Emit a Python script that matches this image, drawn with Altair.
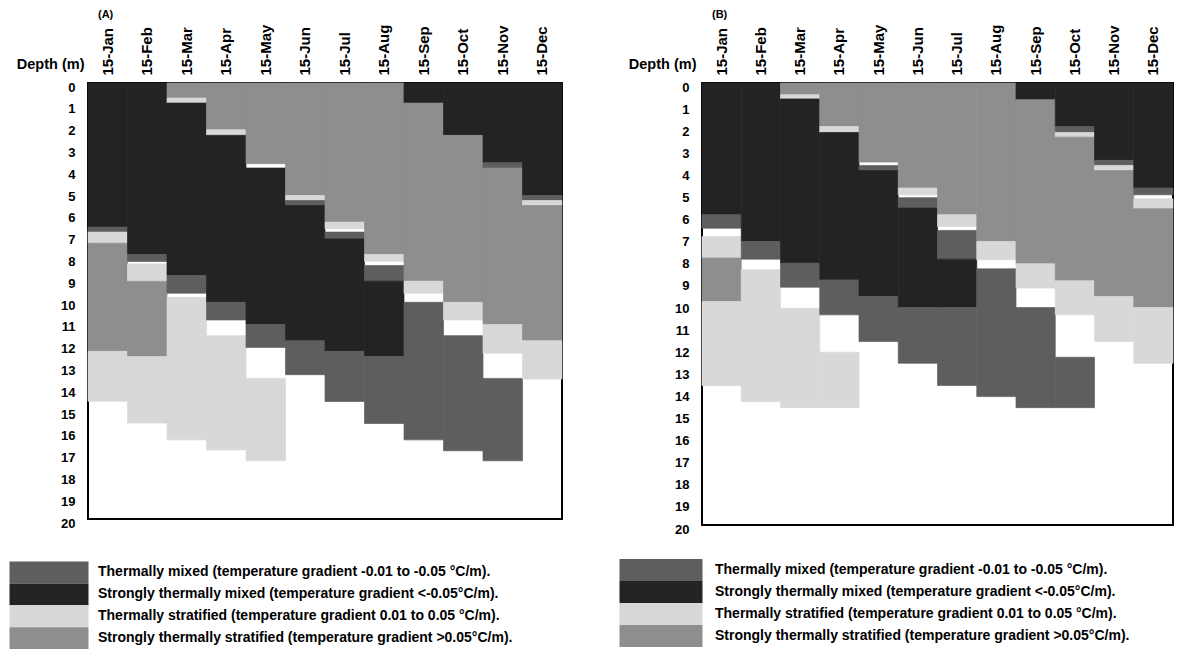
import altair as alt
import pandas as pd

FONT = "Liberation Sans"

months = ["15-Jan", "15-Feb", "15-Mar", "15-Apr", "15-May", "15-Jun",
          "15-Jul", "15-Aug", "15-Sep", "15-Oct", "15-Nov", "15-Dec"]
depth_ticks = list(range(0, 21))

class_codes = ["M", "SM", "S", "SS"]
class_labels = [
    "Thermally mixed (temperature gradient -0.01 to -0.05 °C/m).",
    "Strongly thermally mixed (temperature gradient <-0.05°C/m).",
    "Thermally stratified (temperature gradient 0.01 to 0.05 °C/m).",
    "Strongly thermally stratified (temperature gradient >0.05°C/m).",
]
class_colors = ["#5e5e5e", "#232323", "#d8d8d8", "#8e8e8e"]

# Panel (A): layer classes from the surface down ("W" = blank gap) and layer boundaries (m)
a_classes = {
    "15-Jan": ["SM", "M", "S", "SS", "S"],
    "15-Feb": ["SM", "M", "W", "S", "SS", "S"],
    "15-Mar": ["SS", "S", "SM", "M", "W", "S"],
    "15-Apr": ["SS", "S", "SM", "M", "W", "S"],
    "15-May": ["SS", "W", "SM", "M", "W", "S"],
    "15-Jun": ["SS", "S", "M", "SM", "M"],
    "15-Jul": ["SS", "S", "W", "M", "SM", "M"],
    "15-Aug": ["SS", "S", "W", "M", "SM", "M"],
    "15-Sep": ["SM", "SS", "S", "W", "M"],
    "15-Oct": ["SM", "SS", "S", "W", "M"],
    "15-Nov": ["SM", "M", "SS", "S", "W", "M"],
    "15-Dec": ["SM", "M", "S", "SS", "S"],
}
a_bounds = {
    "15-Jan": [0, 6.61, 6.84, 7.35, 12.31, 14.60],
    "15-Feb": [0, 7.87, 8.19, 8.30, 9.10, 12.55, 15.60],
    "15-Mar": [0, 0.69, 0.92, 8.83, 9.64, 9.83, 16.37],
    "15-Apr": [0, 2.14, 2.40, 10.06, 10.87, 11.59, 16.83],
    "15-May": [0, 3.70, 3.90, 11.08, 12.13, 13.55, 17.33],
    "15-Jun": [0, 5.16, 5.39, 5.62, 11.82, 13.38],
    "15-Jul": [0, 6.38, 6.69, 6.84, 7.15, 12.31, 14.61],
    "15-Aug": [0, 7.87, 8.18, 8.37, 9.09, 12.55, 15.62],
    "15-Sep": [0, 0.92, 9.09, 9.65, 10.06, 16.37],
    "15-Oct": [0, 2.40, 10.06, 10.87, 11.59, 16.87],
    "15-Nov": [0, 3.66, 3.90, 11.08, 12.40, 13.55, 17.33],
    "15-Dec": [0, 5.16, 5.39, 5.62, 11.82, 13.58],
}

# Panel (B)
b_classes = {
    "15-Jan": ["SM", "M", "W", "S", "SS", "S"],
    "15-Feb": ["SM", "M", "W", "S"],
    "15-Mar": ["SS", "S", "SM", "M", "W", "S"],
    "15-Apr": ["SS", "S", "SM", "M", "W", "S"],
    "15-May": ["SS", "W", "M", "SM", "M"],
    "15-Jun": ["SS", "S", "W", "M", "SM", "M"],
    "15-Jul": ["SS", "S", "W", "M", "SM", "M"],
    "15-Aug": ["SS", "S", "W", "M"],
    "15-Sep": ["SM", "SS", "S", "W", "M"],
    "15-Oct": ["SM", "M", "S", "SS", "S", "W", "M"],
    "15-Nov": ["SM", "M", "S", "SS", "S"],
    "15-Dec": ["SM", "M", "W", "S", "SS", "S"],
}
b_bounds = {
    "15-Jan": [0, 5.96, 6.57, 6.95, 7.92, 9.89, 13.69],
    "15-Feb": [0, 7.17, 7.97, 8.45, 14.42],
    "15-Mar": [0, 0.53, 0.72, 8.15, 9.24, 10.19, 14.69],
    "15-Apr": [0, 1.97, 2.24, 8.91, 10.49, 12.18, 14.69],
    "15-May": [0, 3.58, 3.73, 3.96, 9.66, 11.70],
    "15-Jun": [0, 4.75, 5.06, 5.19, 5.66, 10.16, 12.68],
    "15-Jul": [0, 5.96, 6.49, 6.67, 7.97, 10.16, 13.69],
    "15-Aug": [0, 7.17, 8.00, 8.41, 14.19],
    "15-Sep": [0, 0.76, 8.18, 9.28, 10.16, 14.69],
    "15-Oct": [0, 1.97, 2.24, 2.45, 8.95, 10.49, 12.41, 14.69],
    "15-Nov": [0, 3.50, 3.73, 3.96, 9.66, 11.70],
    "15-Dec": [0, 4.75, 5.06, 5.24, 5.69, 10.16, 12.68],
}


def segments(classes, bounds):
    rows = []
    for m in months:
        cl = classes[m]
        bd = bounds[m]
        for i, c in enumerate(cl):
            if c == "W":
                continue
            rows.append({"month": m, "cls": c, "top": bd[i], "bottom": bd[i + 1]})
    return pd.DataFrame(rows)


legend_df = pd.DataFrame({"cls": class_codes, "label": class_labels})
fill_scale = alt.Scale(domain=class_codes, range=class_colors)


def panel(df, tag, w, h, leg_x0, leg_text_x, leg_range, title_x, lab_off):
    bars = alt.Chart(df).mark_rect(strokeWidth=0.7).encode(
        x=alt.X("month:N", sort=months,
                scale=alt.Scale(domain=months, paddingInner=0, paddingOuter=0),
                axis=alt.Axis(orient="top", title=None, labelAngle=270, ticks=False,
                              domain=False, labelPadding=8, labelFontSize=15,
                              labelFontWeight="bold", labelColor="black", labelFont=FONT)),
        y=alt.Y("top:Q",
                scale=alt.Scale(domain=[0, 20], reverse=True, nice=False, zero=False),
                axis=alt.Axis(values=depth_ticks, ticks=False, domain=False, grid=False,
                              labelPadding=13, labelOffset=lab_off, labelFontSize=13,
                              labelFontWeight="bold", labelColor="black", labelFont=FONT,
                              labelOverlap=False,
                              title="Depth (m)", titleAngle=0, titleAlign="right",
                              titleBaseline="middle", titleX=title_x, titleY=-19,
                              titleFontSize=14.5, titleFontWeight="bold", titleFont=FONT,
                              titleColor="black")),
        y2="bottom:Q",
        fill=alt.Fill("cls:N", scale=fill_scale, legend=None),
        stroke=alt.Stroke("cls:N", scale=fill_scale, legend=None),
    )
    leg_y = alt.Y("cls:N", sort=class_codes,
                  scale=alt.Scale(domain=class_codes, range=leg_range,
                                  paddingInner=0, paddingOuter=0),
                  axis=None)
    leg_rect = alt.Chart(legend_df).mark_rect().encode(
        y=leg_y,
        x=alt.value(leg_x0), x2=alt.value(0.5),
        fill=alt.Fill("cls:N", scale=fill_scale, legend=None),
    )
    leg_text = alt.Chart(legend_df).mark_text(
        align="left", baseline="middle", fontSize=14, fontWeight="bold",
        font=FONT, color="black").encode(
        y=leg_y, x=alt.value(leg_text_x), text="label:N")
    return alt.layer(bars, alt.layer(leg_rect, leg_text)).resolve_scale(
        y="independent").properties(
        width=w, height=h,
        title=alt.TitleParams(tag, anchor="start", frame="group", dx=10, fontSize=11,
                              fontWeight="bold", font=FONT, color="black", offset=4))


chart_a = panel(segments(a_classes, a_bounds), "(A)", 474, 436, -78.5, 10,
                [478.5, 566], -4, 4)
chart_b = panel(segments(b_classes, b_bounds), "(B)", 471, 442, -82.5, 13,
                [476, 564], -6, 4)

chart = alt.hconcat(chart_a, chart_b, spacing=54).properties(
    padding=0, background="white"
).configure_view(stroke="black", strokeWidth=2)

chart.save("out.html", embed_options={"renderer": "svg", "actions": False})
